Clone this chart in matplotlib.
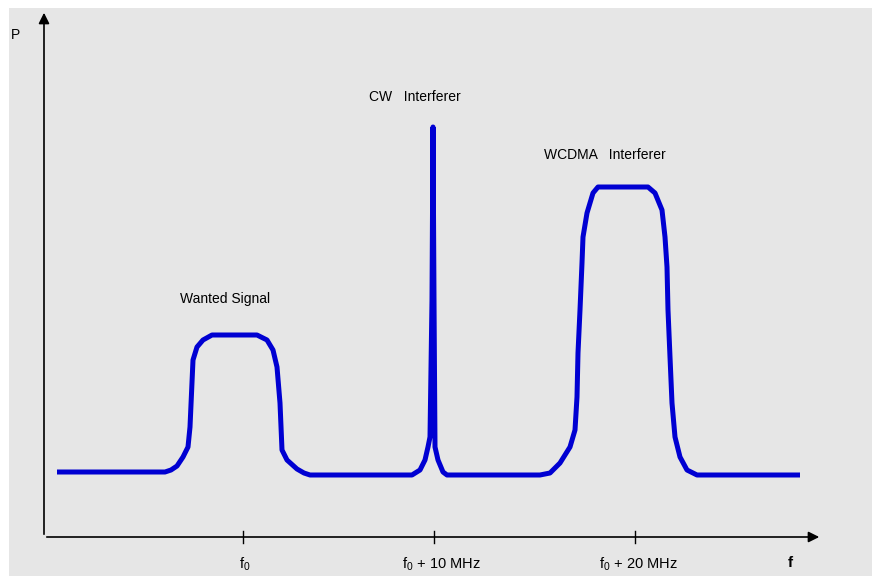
import matplotlib.pyplot as plt
from matplotlib.patches import Rectangle

# spectrum trace (x = frequency position, y = power position, screen units)
freq = [57, 165, 171, 177, 183, 188, 190, 193, 197, 203, 212, 257, 267, 273, 277, 280, 282,
        287, 297, 304, 310, 412, 420, 425, 428, 430, 432, 433, 434, 435, 438, 443, 447,
        540, 550, 560, 570, 575, 577, 578, 580, 582, 583, 587, 593, 598, 648, 655, 662,
        665, 667, 668, 670, 672, 675, 680, 687, 697, 800]
power = [472, 472, 470, 466, 457, 447, 427, 360, 347, 340, 335, 335, 340, 350, 367, 403, 450,
         460, 469, 473, 475, 475, 470, 460, 447, 437, 300, 127, 300, 447, 460, 472, 475,
         475, 473, 463, 447, 430, 397, 353, 310, 263, 237, 213, 193, 187, 187, 193, 210,
         237, 267, 310, 357, 403, 437, 457, 470, 475, 475]

tick_pos = [243, 434, 635]
tick_label_x = [245, 441, 638]
tick_labels = [r"f$_\mathregular{0}$", r"f$_\mathregular{0}$ + 10 MHz", r"f$_\mathregular{0}$ + 20 MHz"]

annotations = ["Wanted Signal", "CW   Interferer", "WCDMA   Interferer"]
annot_pos = [(225, 299), (415, 97), (605, 155)]

fig = plt.figure(figsize=(8.72, 5.76), dpi=100)
ax = fig.add_axes([0, 0, 1, 1])
ax.set_xlim(0, 872)
ax.set_ylim(576, 0)
ax.axis("off")
fig.patch.set_facecolor("white")
ax.add_patch(Rectangle((9, 8), 863, 568, facecolor="#e6e6e6", edgecolor="none", zorder=0))

# axes with arrows
ax.annotate("", xy=(44, 10), xytext=(44, 537),
            arrowprops=dict(arrowstyle="-|>", color="black", lw=1.2, mutation_scale=16))
ax.annotate("", xy=(822, 537), xytext=(44, 537),
            arrowprops=dict(arrowstyle="-|>", color="black", lw=1.2, mutation_scale=16))

for x, xl, lab in zip(tick_pos, tick_label_x, tick_labels):
    ax.plot([x, x], [531, 543], color="black", lw=1)
    ax.text(xl, 564, lab, ha="center", va="center", fontsize=10.5, family="Liberation Sans")

ax.text(11, 35, "P", fontsize=10, ha="left", va="center", family="Liberation Sans")
ax.text(790, 563, "f", fontsize=11, fontweight="bold", ha="center", va="center",
        family="Liberation Sans")

for txt, (x, y) in zip(annotations, annot_pos):
    ax.text(x, y, txt, ha="center", va="center", fontsize=10, family="Liberation Sans")

ax.plot(freq, power, color="#0000d2", lw=3.6, solid_joinstyle="round", solid_capstyle="butt")

fig.savefig("out.png", dpi=100)
